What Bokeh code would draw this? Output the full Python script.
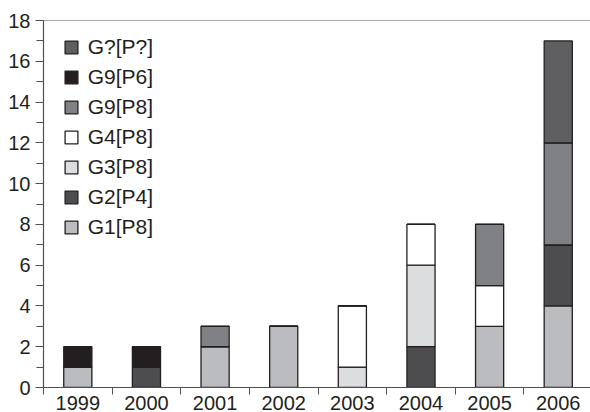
from bokeh.plotting import figure
from bokeh.models import (Span, Legend, LegendItem, SingleIntervalTicker,
                          FixedTicker, ColumnDataSource)
from bokeh.embed import file_html
from bokeh.resources import INLINE

# Counts per year, one list per genotype
years = ["1999", "2000", "2001", "2002", "2003", "2004", "2005", "2006"]
g1_p8 = [1, 0, 2, 3, 0, 0, 3, 4]
g2_p4 = [0, 1, 0, 0, 0, 2, 0, 3]
g3_p8 = [0, 0, 0, 0, 1, 4, 0, 0]
g4_p8 = [0, 0, 0, 0, 3, 2, 2, 0]
g9_p8 = [0, 0, 1, 0, 0, 0, 3, 5]
g9_p6 = [1, 1, 0, 0, 0, 0, 0, 0]
gx_px = [0, 0, 0, 0, 0, 0, 0, 5]

series_names = ["G1[P8]", "G2[P4]", "G3[P8]", "G4[P8]", "G9[P8]", "G9[P6]", "G?[P?]"]
series_values = [g1_p8, g2_p4, g3_p8, g4_p8, g9_p8, g9_p6, gx_px]
series_colors = ["#bbbcbf", "#4d4d4f", "#dcdddf", "#ffffff", "#808184", "#231f20", "#5f5f61"]

FONT = "Liberation Sans"
TEXT = "#231f20"
AXIS = "#4f5052"

# bars sit in the middle of each year slot
xpos = [i + 0.5 for i in range(len(years))]
keys = ["s%d" % i for i in range(len(series_names))]
data = {"x": xpos}
for k, v in zip(keys, series_values):
    data[k] = v
source = ColumnDataSource(data)

p = figure(width=590, height=412, output_backend="svg", toolbar_location=None,
           x_range=(0, 7.97), y_range=(0, 18),
           min_border_left=43, min_border_top=20, min_border_right=0,
           min_border_bottom=0)
p.outline_line_color = None
p.xgrid.visible = False
p.ygrid.visible = False
p.background_fill_color = "white"
p.border_fill_color = "white"

renderers = p.vbar_stack(keys, x="x", width=0.41, source=source,
                         color=series_colors, line_color=TEXT, line_width=1.3)
for r, c in zip(renderers, series_colors):
    r.glyph.fill_color = c
    r.glyph.line_color = TEXT

# top border line
p.add_layout(Span(location=18, dimension="width", line_color=AXIS, line_width=1.2))

# y axis
ya = p.yaxis[0]
ya.ticker = SingleIntervalTicker(interval=2, num_minor_ticks=2)
ya.axis_line_color = AXIS
ya.axis_line_width = 1.2
ya.major_tick_line_color = AXIS
ya.minor_tick_line_color = AXIS
ya.major_tick_out = 8
ya.major_tick_in = 0
ya.minor_tick_out = 7
ya.minor_tick_in = 0
ya.major_label_standoff = 5
ya.major_label_text_font = FONT
ya.major_label_text_font_size = "20px"
ya.major_label_text_color = TEXT

# x axis: boundary ticks between years, labels at the slot centres
xa = p.xaxis[0]
xa.ticker = FixedTicker(ticks=xpos, minor_ticks=list(range(len(years) + 1)))
xa.major_label_overrides = {x: y for x, y in zip(xpos, years)}
xa.axis_line_color = AXIS
xa.axis_line_width = 1.2
xa.major_tick_line_color = None
xa.major_tick_out = 7
xa.major_tick_in = 0
xa.minor_tick_line_color = AXIS
xa.minor_tick_out = 7
xa.minor_tick_in = 0
xa.major_label_standoff = 1
xa.major_label_text_font = FONT
xa.major_label_text_font_size = "20px"
xa.major_label_text_color = TEXT

items = [LegendItem(label=n, renderers=[r])
         for n, r in zip(series_names, renderers)][::-1]
legend = Legend(items=items, location=(19.7, 147.5), padding=0, margin=0,
                spacing=5, glyph_width=16, glyph_height=16, label_standoff=9,
                label_height=25, label_text_font=FONT, label_text_font_size="21px",
                label_text_color=TEXT, border_line_color=None,
                background_fill_alpha=0)
p.add_layout(legend)

open("out.html", "w").write(file_html(p, INLINE))
